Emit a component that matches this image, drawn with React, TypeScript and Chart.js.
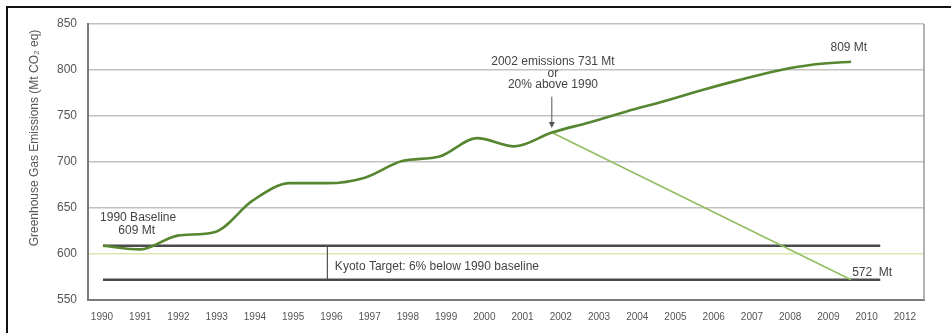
import React, { useEffect, useRef } from 'react';
import { Chart, registerables } from 'chart.js';

Chart.register(...registerables);

// ---- data ----
const xTickLabels = ['1990', '1991', '1992', '1993', '1994', '1995', '1996', '1997', '1998', '1999', '2000', '2001', '2002', '2003', '2004', '2005', '2006', '2007', '2008', '2009', '2010', '2012'];
const yTickValues = [550, 600, 650, 700, 750, 800, 850];

const emissionYears = [1990, 1991, 1992, 1993, 1994, 1995, 1996, 1997, 1998, 1999, 2000, 2001, 2002, 2003, 2004, 2005, 2006, 2007, 2008, 2009, 2010];
const emissionValues = [609, 605, 620, 624, 658, 677, 677, 683, 701, 706, 726, 717, 732, 743, 755, 766, 778, 789, 799, 806, 809];

const kyotoPathYears = [2002, 2010];
const kyotoPathValues = [732, 572];

const baselineValue = 609;
const targetValue = 572;
const refLineYears = [1990, 2010.78];
const kyotoMarkerYear = 1996;

const yAxisTitle = 'Greenhouse Gas Emissions (Mt CO\u2082 eq)';

// annotation text (data coordinates)
const notes = [
  { text: '1990 Baseline', x: 1990.94, y: 639, align: 'center' },
  { text: '609 Mt', x: 1990.9, y: 625, align: 'center' },
  { text: 'Kyoto Target: 6% below 1990 baseline', x: 1996.2, y: 586, align: 'left' },
  { text: '2002 emissions 731 Mt', x: 2002.03, y: 808.5, align: 'center' },
  { text: 'or', x: 2002.03, y: 796.5, align: 'center' },
  { text: '20% above 1990', x: 2002.03, y: 783.5, align: 'center' },
  { text: '809 Mt', x: 2009.45, y: 824, align: 'left' },
  { text: '572  Mt', x: 2010.03, y: 580, align: 'left' },
];
const arrowYear = 2002;
const arrowFrom = 771;
const arrowTo = 737;

const FONT = '"Liberation Sans", Arial, Helvetica, sans-serif';

const decorPlugin = {
  id: 'decor',
  afterDatasetsDraw(chart: any) {
    const ctx = chart.ctx;
    const xs = chart.scales.xd;
    const ys = chart.scales.y;
    const area = chart.chartArea;
    ctx.save();
    // right border of plot
    ctx.strokeStyle = '#9a9a9a';
    ctx.lineWidth = 1.5;
    ctx.beginPath();
    ctx.moveTo(area.right, area.top);
    ctx.lineTo(area.right, area.bottom);
    ctx.stroke();

    // arrow
    const ax = xs.getPixelForValue(arrowYear);
    const ay1 = ys.getPixelForValue(arrowFrom);
    const ay2 = ys.getPixelForValue(arrowTo);
    ctx.strokeStyle = '#555';
    ctx.fillStyle = '#555';
    ctx.lineWidth = 1;
    ctx.beginPath();
    ctx.moveTo(ax, ay1);
    ctx.lineTo(ax, ay2 - 3);
    ctx.stroke();
    ctx.beginPath();
    ctx.moveTo(ax, ay2);
    ctx.lineTo(ax - 3, ay2 - 6);
    ctx.lineTo(ax + 3, ay2 - 6);
    ctx.closePath();
    ctx.fill();

    // notes
    ctx.font = `12px ${FONT}`;
    ctx.fillStyle = '#444';
    ctx.textBaseline = 'middle';
    for (const n of notes) {
      ctx.textAlign = n.align as CanvasTextAlign;
      ctx.fillText(n.text, xs.getPixelForValue(n.x), ys.getPixelForValue(n.y));
    }

    // y axis title
    ctx.save();
    ctx.translate(35, 138);
    ctx.rotate(-Math.PI / 2);
    ctx.textAlign = 'center';
    ctx.textBaseline = 'middle';
    ctx.fillStyle = '#555';
    ctx.font = `12px ${FONT}`;
    ctx.fillText(yAxisTitle, 0, 0);
    ctx.restore();

    // outer frame (top and left)
    ctx.fillStyle = '#111';
    ctx.fillRect(6, 6, chart.width - 6, 2);
    ctx.fillRect(6, 6, 2, chart.height - 6);
    ctx.restore();
  },
};

export default function App() {
  const ref = useRef<HTMLCanvasElement | null>(null);

  useEffect(() => {
    if (!ref.current) return;
    const pts = (xsArr: number[], ysArr: number[]) => xsArr.map((x, i) => ({ x, y: ysArr[i] }));
    const chart = new Chart(ref.current, {
      type: 'line',
      data: {
        datasets: [
          {
            data: pts(emissionYears, emissionValues),
            borderColor: '#56862f',
            borderWidth: 2.6,
            pointRadius: 0,
            cubicInterpolationMode: 'monotone',
            xAxisID: 'xd',
            yAxisID: 'y',
          },
          {
            data: pts(kyotoPathYears, kyotoPathValues),
            borderColor: '#92bd62',
            borderWidth: 1.6,
            pointRadius: 0,
            xAxisID: 'xd',
            yAxisID: 'y',
          },
          {
            data: pts(refLineYears, [baselineValue, baselineValue]),
            borderColor: '#4a4a4a',
            borderWidth: 2.4,
            pointRadius: 0,
            xAxisID: 'xd',
            yAxisID: 'y',
          },
          {
            data: pts(refLineYears, [targetValue, targetValue]),
            borderColor: '#4a4a4a',
            borderWidth: 2.4,
            pointRadius: 0,
            xAxisID: 'xd',
            yAxisID: 'y',
          },
          {
            data: pts([kyotoMarkerYear, kyotoMarkerYear], [baselineValue, targetValue]),
            borderColor: '#555',
            borderWidth: 1.2,
            pointRadius: 0,
            xAxisID: 'xd',
            yAxisID: 'y',
          },
        ],
      },
      options: {
        animation: false,
        responsive: false,
        devicePixelRatio: 1,
        layout: { padding: { left: 0, top: 24, right: 27, bottom: 0 } },
        plugins: { legend: { display: false }, tooltip: { enabled: false } },
        scales: {
          x: {
            type: 'linear',
            position: 'bottom',
            min: -0.366,
            max: 21.5,
            afterBuildTicks: (s: any) => {
              s.ticks = xTickLabels.map((_, i) => ({ value: i }));
            },
            afterFit: (s: any) => {
              s.height = 33;
            },
            grid: { display: false, drawTicks: false },
            border: { color: '#7a7a7a', width: 2 },
            ticks: {
              callback: (v: any) => xTickLabels[v] ?? '',
              font: { size: 10, family: FONT },
              color: '#555',
              padding: 11,
              maxRotation: 0,
              autoSkip: false,
            },
          },
          xd: {
            type: 'linear',
            display: false,
            min: 1989.6,
            max: 2011.95,
          },
          y: {
            type: 'linear',
            min: 550,
            max: 850,
            afterBuildTicks: (s: any) => {
              s.ticks = yTickValues.map((v) => ({ value: v }));
            },
            afterFit: (s: any) => {
              s.width = 88;
            },
            grid: {
              drawTicks: false,
              lineWidth: 1.5,
              color: (c: any) => (c.tick && c.tick.value === 600 ? '#dbe5b0' : '#c2c2c2'),
            },
            border: { color: '#7a7a7a', width: 2 },
            ticks: {
              font: { size: 12, family: FONT },
              color: '#555',
              padding: 11,
            },
          },
        },
      },
      plugins: [decorPlugin],
    } as any);
    return () => chart.destroy();
  }, []);

  return (
    <div style={{ position: 'absolute', left: 0, top: 0, width: 951, height: 333, background: '#fff' }}>
      <canvas ref={ref} width={951} height={333} style={{ display: 'block', width: 951, height: 333 }} />
    </div>
  );
}
